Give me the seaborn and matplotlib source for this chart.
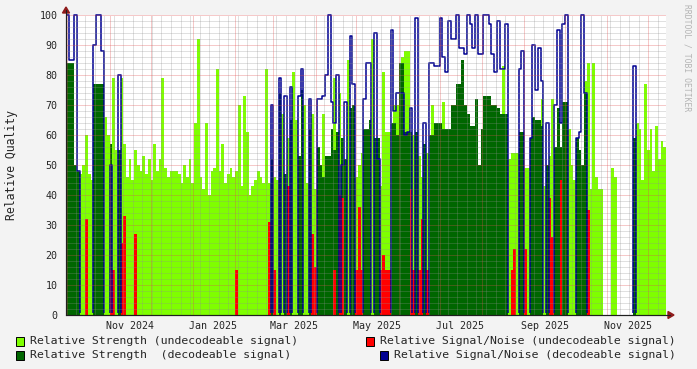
import numpy as np
import pandas as pd
import matplotlib
matplotlib.use("Agg")
import matplotlib.pyplot as plt
import matplotlib.dates as mdates
from matplotlib.patches import Rectangle, Polygon
import seaborn as sns

# ---------------- data (2-day bins starting 2024-09-30) ----------------
START = "2024-09-30"
END = "2025-12-14"
BIN_DAYS = 2

strength_undecodeable = [
    0, 0, 0, 0, 0, 47, 50, 60, 47, 45,
    0, 0, 0, 66, 66, 60, 0, 79, 55, 0,
    79, 57, 46, 52, 45, 55, 50, 48, 53, 47,
    52, 45, 57, 48, 52, 79, 49, 46, 48, 48,
    48, 47, 44, 50, 46, 52, 44, 64, 92, 46,
    42, 64, 40, 48, 49, 82, 48, 57, 44, 47,
    49, 46, 48, 70, 43, 73, 61, 40, 43, 45,
    48, 46, 44, 82, 44, 46, 46, 45, 0, 67,
    0, 59, 0, 81, 65, 0, 0, 70, 44, 0,
    67, 42, 0, 0, 67, 0, 0, 0, 79, 0,
    74, 0, 0, 85, 0, 0, 46, 50, 54, 0,
    0, 0, 92, 0, 0, 43, 81, 61, 61, 0,
    70, 70, 83, 86, 88, 88, 0, 60, 0, 53,
    46, 0, 54, 0, 70, 0, 0, 0, 71, 0,
    0, 0, 0, 0, 0, 0, 0, 0, 0, 0,
    0, 0, 0, 0, 0, 0, 0, 0, 0, 0,
    83, 0, 52, 54, 54, 54, 0, 0, 49, 49,
    0, 0, 0, 0, 72, 43, 0, 53, 72, 0,
    0, 0, 0, 0, 62, 50, 45, 0, 43, 0,
    78, 84, 42, 84, 46, 42, 42, 0, 0, 0,
    49, 46, 0, 0, 0, 0, 0, 0, 0, 64,
    62, 45, 77, 55, 62, 48, 63, 52, 58, 56,
]

strength_decodeable = [
    84, 84, 84, 50, 48, 0, 0, 0, 0, 0,
    77, 77, 77, 77, 0, 0, 57, 0, 0, 55,
    0, 0, 0, 0, 0, 0, 0, 0, 0, 0,
    0, 0, 0, 0, 0, 0, 0, 0, 0, 0,
    0, 0, 0, 0, 0, 0, 0, 0, 0, 0,
    0, 0, 0, 0, 0, 0, 0, 0, 0, 0,
    0, 0, 0, 0, 0, 0, 0, 0, 0, 0,
    0, 0, 0, 0, 0, 52, 0, 0, 74, 0,
    47, 0, 65, 0, 0, 53, 75, 0, 0, 62,
    0, 0, 56, 50, 46, 53, 53, 62, 55, 61,
    0, 59, 52, 0, 69, 70, 0, 0, 0, 62,
    62, 65, 0, 59, 59, 0, 0, 0, 0, 64,
    64, 60, 84, 84, 61, 61, 61, 0, 61, 0,
    0, 57, 0, 60, 60, 64, 64, 64, 62, 62,
    62, 70, 70, 77, 77, 85, 70, 67, 63, 63,
    72, 50, 62, 73, 73, 73, 70, 70, 69, 67,
    67, 67, 0, 0, 0, 0, 61, 61, 0, 0,
    59, 66, 65, 65, 63, 0, 50, 0, 0, 56,
    69, 56, 71, 71, 0, 0, 0, 59, 55, 50,
    74, 0, 0, 0, 0, 0, 0, 0, 0, 0,
    0, 0, 0, 0, 0, 0, 0, 0, 59, 0,
    0, 0, 0, 0, 0, 0, 0, 0, 0, 0,
]

snr_undecodeable = [
    0, 0, 0, 0, 0, 0, 0, 32, 0, 0,
    0, 0, 0, 0, 0, 0, 15, 15, 0, 0,
    24, 33, 0, 0, 0, 27, 0, 0, 0, 0,
    0, 0, 0, 0, 0, 0, 0, 0, 0, 0,
    0, 0, 0, 0, 0, 0, 0, 0, 0, 0,
    0, 0, 0, 0, 0, 0, 0, 0, 0, 0,
    0, 0, 15, 0, 0, 0, 0, 0, 0, 0,
    0, 0, 0, 0, 31, 0, 15, 0, 0, 0,
    0, 43, 0, 0, 0, 0, 0, 0, 0, 0,
    27, 16, 0, 0, 0, 0, 0, 0, 15, 0,
    40, 39, 0, 0, 0, 0, 15, 36, 15, 0,
    0, 0, 0, 0, 0, 15, 20, 15, 15, 0,
    0, 0, 0, 0, 0, 0, 42, 15, 0, 15,
    32, 0, 15, 0, 0, 0, 0, 0, 0, 0,
    0, 0, 0, 0, 0, 0, 0, 0, 0, 0,
    0, 0, 0, 0, 0, 0, 0, 0, 0, 0,
    0, 0, 0, 15, 22, 0, 0, 0, 22, 0,
    0, 0, 0, 0, 0, 0, 0, 39, 26, 0,
    0, 45, 0, 0, 0, 0, 0, 0, 0, 0,
    0, 35, 0, 0, 0, 0, 0, 0, 0, 0,
    0, 0, 0, 0, 0, 0, 0, 0, 0, 0,
    0, 0, 0, 0, 0, 0, 0, 0, 0, 0,
]

snr_decodeable = [
    100, 85, 85, 100, 48, 0, 0, 0, 0, 0,
    90, 100, 100, 88, 0, 0, 50, 0, 0, 80,
    0, 0, 0, 0, 0, 0, 0, 0, 0, 0,
    0, 0, 0, 0, 0, 0, 0, 0, 0, 0,
    0, 0, 0, 0, 0, 0, 0, 0, 0, 0,
    0, 0, 0, 0, 0, 0, 0, 0, 0, 0,
    0, 0, 0, 0, 0, 0, 0, 0, 0, 0,
    0, 0, 0, 0, 0, 70, 0, 0, 79, 0,
    73, 0, 76, 0, 0, 73, 82, 0, 0, 72,
    0, 0, 72, 72, 73, 80, 100, 71, 64, 80,
    0, 50, 71, 0, 93, 77, 0, 0, 0, 72,
    84, 84, 0, 94, 52, 0, 0, 0, 0, 95,
    68, 74, 74, 74, 60, 61, 69, 0, 99, 0,
    0, 64, 0, 84, 84, 83, 83, 99, 86, 81,
    98, 92, 92, 100, 89, 89, 87, 100, 97, 89,
    100, 87, 87, 100, 100, 97, 87, 81, 98, 82,
    82, 97, 0, 0, 0, 0, 82, 88, 0, 0,
    59, 90, 75, 89, 78, 0, 64, 0, 0, 70,
    95, 64, 97, 100, 0, 0, 0, 59, 61, 100,
    74, 0, 0, 0, 0, 0, 0, 0, 0, 0,
    0, 0, 0, 0, 0, 0, 0, 0, 83, 0,
    0, 0, 0, 0, 0, 0, 0, 0, 0, 0,
]

x_label_dates = ["2024-11-16", "2025-01-16", "2025-03-16", "2025-05-16",
                 "2025-07-16", "2025-09-16", "2025-11-16"]
x_labels = ["Nov 2024", "Jan 2025", "Mar 2025", "May 2025",
            "Jul 2025", "Sep 2025", "Nov 2025"]
y_ticks = [0, 10, 20, 30, 40, 50, 60, 70, 80, 90, 100]

legend_labels = ["Relative Strength (undecodeable signal)",
                 "Relative Signal/Noise (undecodeable signal)",
                 "Relative Strength  (decodeable signal)",
                 "Relative Signal/Noise (decodeable signal)"]

# ---------------- style ----------------
C_LIGHT = "#7FFF00"
C_DARK = "#006600"
C_RED = "#FF0000"
C_BLUE = "#000092"

sns.set_style("white")
plt.rcParams["font.family"] = ["DejaVu Sans Mono", "DejaVu Sans"]

W, H = 697, 369
fig = plt.figure(figsize=(W / 100, H / 100), dpi=100, facecolor="#F3F3F3")
ax = fig.add_axes([66 / W, (H - 315) / H, 600 / W, 300 / H])
ax.set_facecolor("white")

x = mdates.date2num(pd.date_range(START, periods=len(strength_undecodeable),
                                  freq=f"{BIN_DAYS}D"))
x0, x1 = mdates.date2num(pd.Timestamp(START)), mdates.date2num(pd.Timestamp(END))

bar_kw = dict(width=BIN_DAYS, align="edge", linewidth=0, antialiased=False)
ax.bar(x, strength_undecodeable, color=C_LIGHT, zorder=1, **bar_kw)
ax.bar(x, strength_decodeable, color=C_DARK, zorder=2, **bar_kw)
ax.bar(x, snr_undecodeable, color=C_RED, zorder=3, **bar_kw)

xs = np.append(x, x[-1] + BIN_DAYS)
ys = np.append(np.array(snr_decodeable, float), snr_decodeable[-1])
sns.lineplot(x=xs, y=ys, drawstyle="steps-post", estimator=None, sort=False,
             color=C_BLUE, linewidth=1.1, ax=ax, zorder=4)
blue_line = ax.lines[-1]
clip_rect = Rectangle((0, 0.006), 1, 1.05, transform=ax.transAxes,
                      facecolor="none", edgecolor="none")
blue_line.set_clip_path(clip_rect)

ax.set_xlim(x0, x1)
ax.set_ylim(0, 100)

# ---------------- grid (drawn over the data, rrdtool-like) ----------------
minor_c = (0.56, 0.56, 0.56, 0.55)
major_c = (0.87, 0.31, 0.31, 0.6)
month_starts = pd.date_range("2024-10-01", END, freq="MS")
weeks = pd.date_range(START, END, freq="W-MON")
for d in weeks:
    if d not in month_starts:
        ax.axvline(mdates.date2num(d), color=minor_c, lw=0.72, dashes=(1, 1), zorder=5)
for v in range(2, 101, 2):
    if v % 10:
        ax.axhline(v, color=minor_c, lw=0.72, dashes=(1, 1), zorder=5)
for d in month_starts:
    ax.axvline(mdates.date2num(d), color=major_c, lw=0.72, dashes=(1, 1), zorder=6)
for v in y_ticks[1:]:
    ax.axhline(v, color=major_c, lw=0.72, dashes=(1, 1), zorder=6)

# ---------------- axes ----------------
for s in ["top", "right"]:
    ax.spines[s].set_visible(False)
for s in ["left", "bottom"]:
    ax.spines[s].set_color("#1F1F1F")
    ax.spines[s].set_linewidth(0.8)
    ax.spines[s].set_zorder(10)

ax.set_yticks(y_ticks)
ax.set_yticklabels([str(v) for v in y_ticks])
ax.set_yticks(list(range(0, 101, 2)), minor=True)
ax.tick_params(axis="y", which="major", length=3, width=0.7, pad=3,
               labelsize=7.2, color="#1F1F1F")
ax.tick_params(axis="y", which="minor", length=1.5, width=0.6, color="#1F1F1F")

ax.set_xticks(mdates.date2num(pd.to_datetime(x_label_dates)))
ax.set_xticklabels(x_labels)
ax.set_xticks(mdates.date2num(weeks.union(month_starts)), minor=True)
ax.tick_params(axis="x", which="major", length=0, pad=4, labelsize=7.2)
ax.tick_params(axis="x", which="minor", length=2, width=0.6, color="#1F1F1F")
ax.set_xlabel("")
ax.set_ylabel("")

def fx(px):
    return px / W

def fy(py):
    return 1 - py / H

# axis extensions + arrows
fig.add_artist(plt.Line2D([fx(66), fx(66)], [fy(315), fy(10)], color="#1F1F1F", lw=0.8))
fig.add_artist(plt.Line2D([fx(66), fx(670)], [fy(315), fy(315)], color="#1F1F1F", lw=0.8))
fig.add_artist(Polygon([[fx(62.5), fy(13)], [fx(69.5), fy(13)], [fx(66), fy(7)]],
                       closed=True, transform=fig.transFigure, color="#8E1B1B"))
fig.add_artist(Polygon([[fx(668), fy(311.5)], [fx(668), fy(318.5)], [fx(674), fy(315)]],
                       closed=True, transform=fig.transFigure, color="#8E1B1B"))

fig.text(fx(12), fy(165), "Relative Quality", rotation=90, ha="center",
         va="center", fontsize=8.3)
fig.text(fx(687), fy(4), "RRDTOOL / TOBI OETIKER", rotation=270, ha="center",
         va="top", fontsize=5.8, color="#B4B4B4")

# ---------------- legend ----------------
legend_pos = [(16, 341), (366, 341), (16, 355), (380, 355)]
legend_cols = [C_LIGHT, C_RED, C_DARK, C_BLUE]
for (px, py), col, lab in zip(legend_pos, legend_cols, legend_labels):
    fig.add_artist(Rectangle((fx(px), fy(py + 4.5)), 8 / W, 9 / H,
                             transform=fig.transFigure, facecolor=col,
                             edgecolor="black", linewidth=0.7))
    fig.text(fx(px + 14), fy(py), lab, ha="left", va="center", fontsize=8.25)

fig.savefig("out.png", dpi=100, facecolor=fig.get_facecolor())
